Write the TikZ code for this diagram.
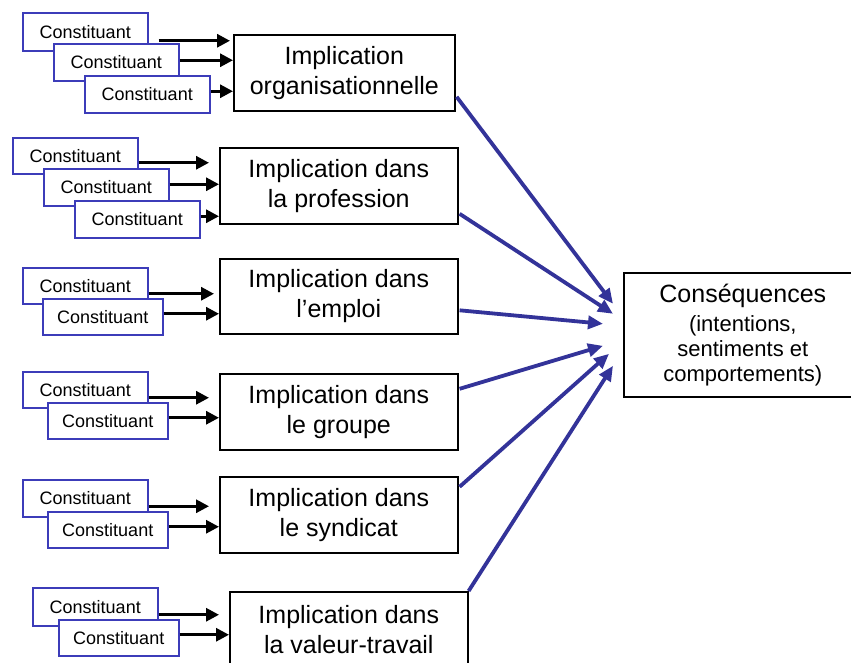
\documentclass[tikz,border=0pt]{standalone}
\usepackage{fontspec}
\setmainfont{Liberation Sans}
\usetikzlibrary{calc,arrows.meta}
\definecolor{cblue}{RGB}{51,51,153}
\definecolor{cframe}{RGB}{60,60,185}
\tikzset{
	cst/.style={draw=cframe, line width=1.5pt, fill=white, anchor=north west, minimum width=125pt, minimum height=37pt, inner sep=0pt, font=\fontsize{18}{21}\selectfont},
	impl/.style={draw, line width=1.6pt, fill=white, anchor=north west, minimum width=238pt, minimum height=76pt, inner sep=0pt, align=center, font=\fontsize{25}{30}\selectfont},
	blk/.style={-{Triangle[length=13pt,width=13pt]}, line width=3pt},
	blu/.style={-{Triangle[length=15pt,width=13pt]}, line width=3.8pt, draw=cblue, fill=cblue}
}

\begin{document}
\begin{tikzpicture}[x=1pt, y=-1pt]
		%%%%% START %%%%%
		\useasboundingbox (0, 0) rectangle (851, 662);
		
		\node[impl, minimum width=221pt] (i1) at (233, 34) {Implication\\organisationnelle};
		\node[cst, minimum height=38pt] (c1a) at (22, 12) {Constituant};
		\node[cst] (c1b) at (53, 43) {Constituant};
		\node[cst] (c1c) at (84, 75) {Constituant};
		\draw[blk] ($(c1a.east)+(10,9)$) -- ($(i1.west|-c1a.east)+(-3,9)$);
		\draw[blk] ($(c1b.east)+(0,-2)$) -- ($(i1.west|-c1b.east)+(0,-2)$);
		\draw[blk] ($(c1c.east)+(0,-3)$) -- ($(i1.west|-c1c.east)+(0,-3)$);
		
		\node[impl] (i2) at (219, 147) {Implication dans\\la profession};
		\node[cst, minimum height=36pt] (c2a) at (12, 137) {Constituant};
		\node[cst] (c2b) at (43, 168) {Constituant};
		\node[cst] (c2c) at (74, 200) {Constituant};
		\draw[blk] ($(c2a.east)+(0,7)$) -- ($(i2.west|-c2a.east)+(-10,7)$);
		\draw[blk] ($(c2b.east)+(0,-3)$) -- ($(i2.west|-c2b.east)+(0,-3)$);
		\draw[blk] ($(c2c.east)+(0,-3)$) -- ($(i2.west|-c2c.east)+(0,-3)$);
		
		\node[impl, minimum height=75pt] (i3) at (219, 258) {Implication dans\\l’emploi};
		\node[cst, minimum height=36pt] (c3a) at (22, 267) {Constituant};
		\node[cst, minimum width=120pt, minimum height=36pt] (c3b) at (42, 298) {Constituant};
		\draw[blk] ($(c3a.east)+(0,8)$) -- ($(i3.west|-c3a.east)+(-5,8)$);
		\draw[blk] ($(c3b.east)+(0,-3)$) -- ($(i3.west|-c3b.east)+(0,-3)$);
		
		\node[impl] (i4) at (219, 373) {Implication dans\\le groupe};
		\node[cst, minimum height=36pt] (c4a) at (22, 371) {Constituant};
		\node[cst, minimum width=120pt, minimum height=36pt] (c4b) at (47, 402) {Constituant};
		\draw[blk] ($(c4a.east)+(0,8)$) -- ($(i4.west|-c4a.east)+(-10,8)$);
		\draw[blk] ($(c4b.east)+(0,-3)$) -- ($(i4.west|-c4b.east)+(0,-3)$);
		
		\node[impl] (i5) at (219, 476) {Implication dans\\le syndicat};
		\node[cst] (c5a) at (22, 479) {Constituant};
		\node[cst, minimum width=120pt, minimum height=36pt] (c5b) at (47, 511) {Constituant};
		\draw[blk] ($(c5a.east)+(0,8)$) -- ($(i5.west|-c5a.east)+(-10,8)$);
		\draw[blk] ($(c5b.east)+(0,-3)$) -- ($(i5.west|-c5b.east)+(0,-3)$);
		
		\node[impl] (i6) at (229, 591) {Implication dans\\la valeur-travail};
		\node[cst, minimum height=38pt] (c6a) at (32, 587) {Constituant};
		\node[cst, minimum width=120pt, minimum height=36pt] (c6b) at (58, 619) {Constituant};
		\draw[blk] ($(c6a.east)+(0,8)$) -- ($(i6.west|-c6a.east)+(-10,8)$);
		\draw[blk] ($(c6b.east)+(0,-3)$) -- ($(i6.west|-c6b.east)+(0,-3)$);
		
		\node[impl, minimum height=124pt, font=\fontsize{22}{25}\selectfont] (cons) at (623, 272) {{\fontsize{25}{30}\selectfont Conséquences}\\[4pt](intentions,\\sentiments et\\comportements)};
		
		\draw[blu] ($(i1.east)+(1,24)$) -- ($(cons.west)+(-10,-31)$);
		\draw[blu] ($(i2.east)+(1,28)$) -- ($(cons.west)+(-10,-21)$);
		\draw[blu] ($(i3.east)+(1,14)$) -- ($(cons.west)+(-20,-11)$);
		\draw[blu] ($(i4.east)+(1,-23)$) -- ($(cons.west)+(-20,11)$);
		\draw[blu] ($(i5.east)+(1,-28)$) -- ($(cons.west)+(-14,19)$);
		\draw[blu] (i6.north east) -- ($(cons.west)+(-10,31)$);
		
		%%%%% END %%%%%
	\end{tikzpicture}
\end{document}
